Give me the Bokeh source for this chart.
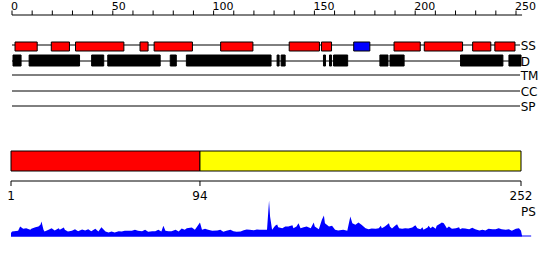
from bokeh.plotting import figure
from bokeh.models import Range1d
from bokeh.core.properties import value
from bokeh.embed import file_html
from bokeh.resources import INLINE

# ---------------- data ----------------
seq_len = 252
top_ticks = list(range(0, 251, 10))
top_label_pos = [0, 50, 100, 150, 200, 250]
top_labels = ["0", "50", "100", "150", "200", "250"]

# secondary structure (residue ranges), H = helix, E = strand
ss_start = [2, 20, 32, 64, 71, 104, 138, 154, 170, 190, 205, 229, 240]
ss_end = [12, 28, 55, 67, 89, 119, 152, 158, 177, 202, 223, 237, 249]
ss_kind = ["H", "H", "H", "H", "H", "H", "H", "H", "E", "H", "H", "H", "H"]

# disorder
dis_start = [1, 9, 40, 48, 79, 87, 132, 134, 155, 158, 160, 183, 188, 223, 247]
dis_end = [4, 33, 45, 73, 81, 128, 132, 135, 155, 158, 166, 186, 194, 243, 252]

track_names = ["SS", "D", "TM", "CC", "SP"]

# domains
dom_start = [1, 94]
dom_end = [94, 252]
dom_kind = ["D1", "D2"]

bottom_ticks = [1, 94, 252]
bottom_labels = ["1", "94", "252"]

# PS profile (residue position, score)
ps_pos = [1, 1.5, 4.5, 5.5, 7, 8.5, 10.5, 11, 13, 14.5, 15.5, 16, 17, 17.5, 19.5, 21, 22.5,
          24.5, 25, 27, 27.5, 29, 31, 32.5, 34, 36, 37.5, 39, 40.5, 42.5, 44, 45.5, 47.5,
          49, 50.5, 52, 54, 55.5, 57, 59, 60.5, 62, 63.5, 65.5, 67, 68.5, 70.5, 72, 73.5,
          75, 76, 77, 78.5, 80, 82, 83.5, 85, 86.5, 87.5, 90, 91.5, 94, 95, 96.5, 98, 100,
          102.5, 104, 105.5, 107, 109, 110.5, 112, 114, 115.5, 117, 118.5, 120.5, 122,
          123.5, 125.5, 127, 128, 128.5, 129.5, 131, 132, 132.5, 134.5, 136, 137.5, 139.5,
          140, 141.5, 142.5, 143.5, 145, 146.5, 148.5, 150, 150.5, 152.5, 154, 155, 155.5,
          157.5, 159, 160.5, 162, 164.5, 166.5, 168, 169, 170.5, 172, 173.5, 174.5, 175.5,
          177, 178.5, 180.5, 182, 183, 183.5, 185, 187, 187.5, 188.5, 190, 191, 192, 193.5,
          195, 196.5, 198.5, 200, 201, 202.5, 203.5, 204, 206, 206.5, 207.5, 208.5, 210,
          210.5, 212.5, 213, 214, 215, 215.5, 216.5, 218, 220, 221.5, 222, 223, 224.5,
          226.5, 228, 229.5, 231.5, 233, 234.5, 236, 238, 239.5, 241, 242.5, 244.5, 246,
          247.5, 249.5, 251, 252, 252.5]
ps_score = [3.5, 5, 5.7, 10, 7.7, 8.3, 6.7, 7.7, 9.3, 10, 11.7, 15, 6.7, 5, 6.7, 8.3, 6,
            8.3, 6.7, 9, 6.7, 5, 5.7, 7.3, 5.3, 7, 6, 7.3, 5.3, 7.7, 5, 9.3, 5,
            4, 5, 4, 5.3, 5, 5.7, 5.7, 5.7, 6.7, 5.7, 5.3, 6.7, 4.7, 5.3, 5.3, 6.7,
            5, 10.7, 5.7, 5.3, 5.3, 6.7, 5, 8, 6.7, 8.3, 9, 6.7, 14, 6.7, 7.7, 6.7, 5.7,
            6, 6.7, 4.7, 5.7, 6.7, 5.3, 4.7, 5, 6.3, 7, 6.7, 6.3, 7,
            6.7, 6.7, 6.7, 36, 20, 6.7, 10.7, 12, 9.3, 8.3, 10, 10, 11.3,
            8.3, 10, 13.3, 8.3, 9.3, 10, 8.3, 14, 10, 7.3, 16.7, 21, 13.3,
            10, 10.7, 6.7, 6, 6.7, 5.7, 20, 13.3, 11.7, 14, 11.7, 10, 8.3,
            7.3, 8, 7.7, 8.3, 10.7, 8.3, 10, 13.3, 10, 8, 10.7, 12.3, 8.3, 7.7,
            8.3, 8, 9, 11.3, 8.3, 7.3, 9.3, 6.7, 9, 10.7, 8.3, 10, 7.7,
            10.7, 13.3, 14, 13.3, 10, 8.3, 10, 7.7, 8.3, 9.3, 7.3, 8.3, 8,
            7.3, 8.7, 7.3, 6, 6.7, 6, 7.7, 7.3, 7.3, 8.3, 7.3, 6.7, 7.3,
            5.7, 7.7, 8.3, 5.7, 0.7]

# ---------------- styles / layout ----------------
FONT = value("DejaVu Sans")
ss_colors = {"H": "#ff0000", "E": "#0000ff"}
dom_colors = {"D1": "#ff0000", "D2": "#ffff00"}
track_y = [44.5, 60.5, 74.5, 90.5, 105.5]

p = figure(width=550, height=260,
           x_range=Range1d(-11.5 / 2.016, 538.5 / 2.016),
           y_range=Range1d(260, 0),
           output_backend="svg", toolbar_location=None, min_border=0,
           x_axis_type=None, y_axis_type=None, outline_line_color=None,
           background_fill_color="white", border_fill_color="white")
p.grid.visible = False
p.extra_x_ranges = {"dom": Range1d(1 - 10.5 / 2.0319, 1 + 539.5 / 2.0319)}
p.extra_y_ranges = {"ps": Range1d(-24, 236)}

# top axis
p.segment(x0=[0], y0=[14.5], x1=[seq_len + 1], y1=[14.5], line_color="black", line_width=1)
p.segment(x0=top_ticks, y0=[10] * len(top_ticks), x1=top_ticks, y1=[14.5] * len(top_ticks),
          line_color="black", line_width=1)
p.text(x=top_label_pos, y=[5.5] * len(top_label_pos), text=top_labels, x_offset=-1,
       text_font=FONT, text_font_size="11px", text_align="left",
       text_baseline="alphabetic", text_color="black")

# track lines
p.segment(x0=[0] * len(track_y), y0=track_y, x1=[seq_len] * len(track_y), y1=track_y,
          line_color="black", line_width=1)

# SS boxes
p.quad(left=[s - 0.5 for s in ss_start], right=[e + 0.5 for e in ss_end],
       top=[track_y[0] - 3] * len(ss_start), bottom=[track_y[0] + 6] * len(ss_start),
       fill_color=[ss_colors[k] for k in ss_kind], line_color="black", line_width=1)

# disorder boxes
p.quad(left=[s - 0.5 for s in dis_start], right=[e + 0.5 for e in dis_end],
       top=[track_y[1] - 6] * len(dis_start), bottom=[track_y[1] + 5] * len(dis_start),
       fill_color="black", line_color="black", line_width=1)

# track labels
p.text(x=[seq_len + 0.3] * len(track_names), y=[y + 0.5 for y in track_y], text=track_names,
       text_font=FONT, text_font_size="12px", text_align="left",
       text_baseline="alphabetic", text_color="black")

# domain bar
p.quad(left=dom_start, right=dom_end, top=[150.5] * 2, bottom=[170.5] * 2,
       fill_color=[dom_colors[k] for k in dom_kind], line_color="black", line_width=1,
       x_range_name="dom")

# bottom axis
p.segment(x0=[bottom_ticks[0]], y0=[180.5], x1=[bottom_ticks[-1]], y1=[180.5],
          line_color="black", line_width=1, x_range_name="dom")
p.segment(x0=bottom_ticks, y0=[180.5] * 3, x1=bottom_ticks, y1=[185.5] * 3,
          line_color="black", line_width=1, x_range_name="dom")
p.text(x=bottom_ticks, y=[195] * 3, text=bottom_labels, x_range_name="dom",
       text_font=FONT, text_font_size="12px", text_align="center",
       text_baseline="alphabetic", text_color="black")

# PS profile
p.varea(x=ps_pos, y1=[0] * len(ps_pos), y2=ps_score, fill_color="#0000ff",
        x_range_name="dom", y_range_name="ps")
p.segment(x0=[1], y0=[0.5], x1=[seq_len + 5], y1=[0.5], line_color="#0000ff", line_width=1,
          x_range_name="dom", y_range_name="ps")
p.text(x=[seq_len], y=[211], text=["PS"], x_range_name="dom",
       text_font=FONT, text_font_size="12px", text_align="left",
       text_baseline="alphabetic", text_color="black")

open("out.html", "w").write(file_html(p, INLINE))
